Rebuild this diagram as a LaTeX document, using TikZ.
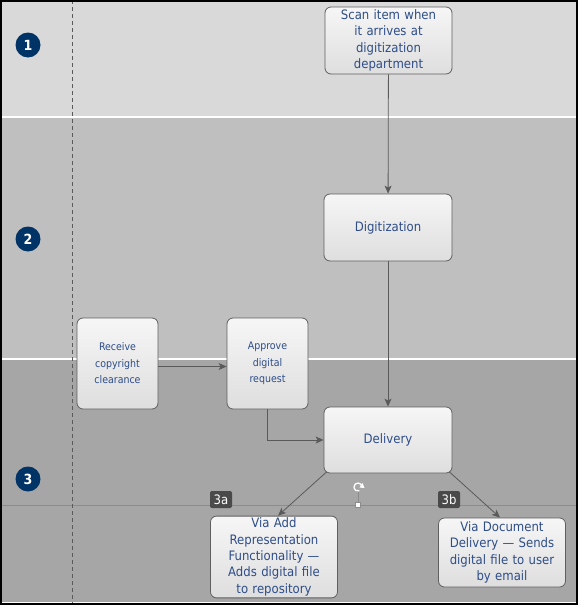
\documentclass[tikz,border=0pt]{standalone}
\usepackage{fontspec}
\setmainfont{DejaVu Sans Condensed}
\usetikzlibrary{arrows.meta}
\definecolor{bandA}{RGB}{217,217,217}
\definecolor{bandB}{RGB}{191,191,191}
\definecolor{bandC}{RGB}{166,166,166}
\definecolor{sepgray}{RGB}{140,140,140}
\definecolor{boxline}{RGB}{95,95,95}
\definecolor{boxtop}{RGB}{246,246,246}
\definecolor{boxbot}{RGB}{222,222,222}
\definecolor{txtblue}{RGB}{46,77,137}
\definecolor{arrowc}{RGB}{90,90,90}
\definecolor{navy}{RGB}{0,51,102}
\definecolor{tagc}{RGB}{74,74,74}
\begin{document}
\begin{tikzpicture}[x=1pt,y=-1pt,
  box/.style={draw=boxline, line width=0.8pt, rounded corners=6pt, top color=boxtop, bottom color=boxbot,
    text=txtblue, align=center, inner sep=2pt, font=\fontsize{13}{16.3}\selectfont},
  smallbox/.style={box, font=\fontsize{10.5}{16.5}\selectfont},
  arr/.style={draw=arrowc, line width=0.8pt, -{Stealth[length=8pt,width=7pt,inset=2pt]}},
  num/.style={circle, fill=navy, text=white, font=\bfseries\fontsize{14}{14}\selectfont, minimum size=25pt, inner sep=0pt},
  tag/.style={fill=tagc, rounded corners=2pt, text=white, minimum width=22pt, minimum height=17pt, inner sep=0pt, font=\fontsize{13}{13}\selectfont}
]
\useasboundingbox (0,0) rectangle (578,605);
% bands
\fill[bandA] (0,0) rectangle (578,117);
\fill[bandB] (0,117) rectangle (578,359);
\fill[bandC] (0,359) rectangle (578,605);
\draw[white, line width=2pt] (0,117) -- (578,117);
\draw[white, line width=2pt] (0,359) -- (578,359);
\draw[sepgray, line width=0.8pt] (0,505.5) -- (578,505.5);
\draw[white, line width=1pt] (0,602) -- (578,602);
\draw[arrowc, line width=0.8pt, dash pattern=on 4pt off 3pt] (72,0) -- (72,605);
% numbers
\node[num] (n1) at (28,45) {1};
\node[num] (n2) at (28,239) {2};
\node[num] (n3) at (28,479) {3};
% boxes
\node[box, minimum width=127pt, minimum height=67pt, text width=120pt] (scan) at (388.5,40.5) {Scan item when\\it arrives at\\digitization\\department};
\node[box, minimum width=128pt, minimum height=67pt] (digi) at (388,227.5) {Digitization};
\node[smallbox, minimum width=81pt, minimum height=91pt, text width=76pt] (recv) at (117.5,363.5) {Receive\\copyright\\clearance};
\node[smallbox, minimum width=81pt, minimum height=91pt, text width=76pt] (appr) at (267.5,363.5) {Approve\\digital\\request};
\node[box, minimum width=128pt, minimum height=66pt] (deliv) at (388,440) {Delivery};
\node[box, minimum width=127pt, minimum height=78pt, text width=122pt] (viaadd) at (274,557) {Via Add\\Representation\\Functionality —\\Adds digital file\\to repository};
\node[box, minimum width=127pt, minimum height=69pt, text width=122pt] (viadoc) at (502,552.5) {Via Document\\Delivery — Sends\\digital file to user\\by email};
% connectors
\draw[arr] (scan) -- (digi);
\draw[arr] (digi) -- (deliv);
\draw[arr] ([yshift=-3pt]recv.east) -- ([yshift=-3pt]appr.west);
\draw[arr] (appr.south) |- (deliv.west);
\draw[arr] ([xshift=3pt,yshift=1.5pt]deliv.south west) -- ([xshift=4pt]viaadd.north);
\draw[arr] ([xshift=-3pt,yshift=1.5pt]deliv.south east) -- ([xshift=-2pt]viadoc.north);
% tags
\node[tag] (t3a) at (221,499.5) {3a};
\node[tag] (t3b) at (449,499.5) {3b};
% rotation handle
\draw[white, line width=1.3pt] (362,487) arc[start angle=0, end angle=290, radius=4pt];
\fill[white] (362.5,483) -- (364.5,488) -- (359.5,487.5) -- cycle;
\draw[sepgray, line width=0.8pt] (358,492) -- (358,502);
\node[draw=sepgray, fill=white, minimum size=5pt, inner sep=0pt, line width=0.6pt] (handle) at (358,505) {};
% border
\draw[black, line width=2pt] (1,1) rectangle (577,604);
\end{tikzpicture}
\end{document}
